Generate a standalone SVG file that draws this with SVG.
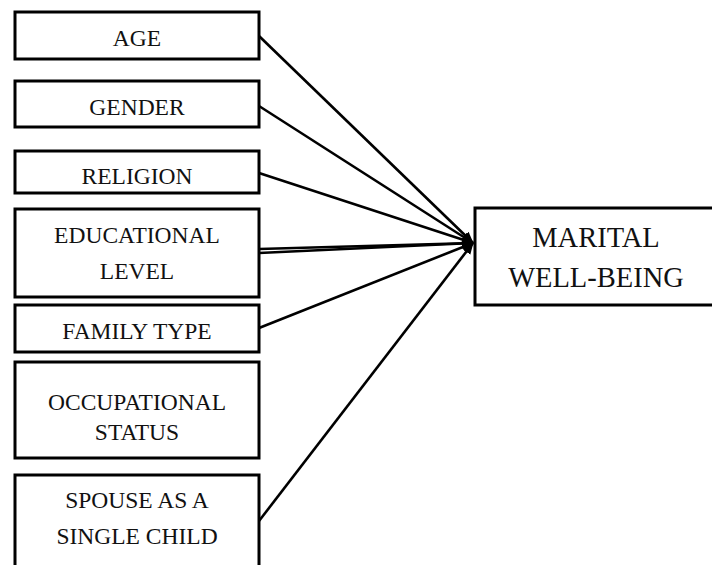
<svg xmlns="http://www.w3.org/2000/svg" width="712" height="565" viewBox="0 0 712 565">
<style>
.box{fill:#fff;stroke:#000;stroke-width:3}
.t{font-family:'Liberation Serif','Times New Roman',serif;font-size:23.5px;fill:#111;text-anchor:middle}
.tb{font-family:'Liberation Serif','Times New Roman',serif;font-size:28.5px;fill:#111;text-anchor:middle}
.c{stroke:#000;stroke-width:2.6;fill:none}
</style>
<defs>
<marker id="ah" markerUnits="userSpaceOnUse" markerWidth="12" markerHeight="12" viewBox="0 0 12 12" refX="11" refY="6" orient="auto">
<path d="M0,1 L12,6 L0,11 Z" fill="#000"/>
</marker>
</defs>
<g id="connectors">
<line class="c" x1="259" y1="36" x2="473" y2="243" marker-end="url(#ah)"/>
<line class="c" x1="259" y1="106" x2="473" y2="243" marker-end="url(#ah)"/>
<line class="c" x1="259" y1="173" x2="473" y2="243" marker-end="url(#ah)"/>
<line class="c" x1="259" y1="249" x2="473" y2="243" marker-end="url(#ah)"/>
<line class="c" x1="259" y1="253" x2="473" y2="243" marker-end="url(#ah)"/>
<line class="c" x1="259" y1="328" x2="473" y2="243" marker-end="url(#ah)"/>
<line class="c" x1="259" y1="521" x2="473" y2="243" marker-end="url(#ah)"/>
</g>
<g id="age"><rect class="box" x="15" y="12" width="244" height="47"/><text class="t" x="137" y="46">AGE</text></g>
<g id="gender"><rect class="box" x="15" y="81" width="244" height="46"/><text class="t" x="137" y="115">GENDER</text></g>
<g id="religion"><rect class="box" x="15" y="151" width="244" height="42"/><text class="t" x="137" y="184">RELIGION</text></g>
<g id="educational"><rect class="box" x="15" y="209" width="244" height="88"/><text class="t" x="137" y="243">EDUCATIONAL</text><text class="t" x="137" y="279">LEVEL</text></g>
<g id="family"><rect class="box" x="15" y="305" width="244" height="47"/><text class="t" x="137" y="339">FAMILY TYPE</text></g>
<g id="occupational"><rect class="box" x="15" y="362" width="244" height="96"/><text class="t" x="137" y="410">OCCUPATIONAL</text><text class="t" x="137" y="440">STATUS</text></g>
<g id="spouse"><rect class="box" x="15" y="475" width="244" height="110"/><text class="t" x="137" y="508">SPOUSE AS A</text><text class="t" x="137" y="544">SINGLE CHILD</text></g>
<g id="marital"><rect class="box" x="475" y="208" width="250" height="97"/><text class="tb" x="596" y="247">MARITAL</text><text class="tb" x="596" y="287">WELL-BEING</text></g>
</svg>
